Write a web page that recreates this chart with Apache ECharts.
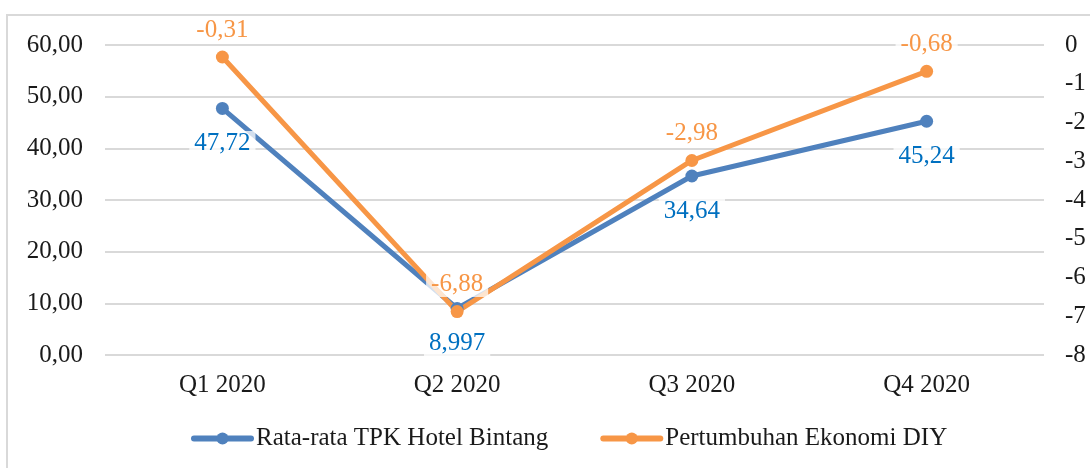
<!DOCTYPE html>
<html>
<head>
<meta charset="utf-8">
<script src="https://cdn.jsdelivr.net/npm/echarts@6/dist/echarts.min.js"></script>
<style>
    html, body { margin: 0; padding: 0; background: #fff; }
    #chart { width: 1090px; height: 468px; }
</style>
</head>
<body>
<div id="chart"></div>
<script>
// data
var categories = ["Q1 2020", "Q2 2020", "Q3 2020", "Q4 2020"];
var tpkHotel = [47.72, 8.997, 34.64, 45.24];
var ekonomiDIY = [-0.31, -6.88, -2.98, -0.68];
var seriesNames = ["Rata-rata TPK Hotel Bintang", "Pertumbuhan Ekonomi DIY"];

(function() {
    var myChart = echarts.init(document.getElementById("chart"));
    var fontName = "Liberation Serif";

    function comma(v) {
        return String(v).replace(".", ",");
    }

    var option = {
        animation: false,
        color: ["#4F81BD", "#F79646"],
        //外框
        graphic: [{
            type: 'rect',
            shape: { x: 7, y: 15, width: 1110, height: 480 },
            style: { fill: null, stroke: "#d9d9d9", lineWidth: 2 },
            silent: true
        }],
        grid: {
            left: 105,
            right: 46,
            top: 45,
            bottom: 113
        },
        legend: {
            bottom: 12,
            left: 186,
            itemWidth: 57,
            itemHeight: 15,
            itemGap: 52,
            lineStyle: { width: 6, cap: 'round' },
            textStyle: {
                fontFamily: fontName,
                fontSize: 25,
                color: "#1a1a1a"
            },
            data: seriesNames
        },
        xAxis: {
            type: 'category',
            data: categories,
            axisLine: { show: false },
            axisTick: { show: false },
            axisLabel: {
                margin: 18,
                fontFamily: fontName,
                fontSize: 25,
                color: "#1a1a1a"
            }
        },
        yAxis: [{
            type: 'value',
            min: 0,
            max: 60,
            interval: 10,
            axisLine: { show: false },
            axisTick: { show: false },
            axisLabel: {
                margin: 22,
                fontFamily: fontName,
                fontSize: 25,
                color: "#1a1a1a",
                formatter: function(v) {
                    return v.toFixed(2).replace(".", ",");
                }
            },
            splitLine: {
                lineStyle: { color: "#d9d9d9", width: 2 }
            }
        }, {
            type: 'value',
            min: -8,
            max: 0,
            interval: 1,
            axisLine: { show: false },
            axisTick: { show: false },
            splitLine: { show: false },
            axisLabel: {
                margin: 21,
                fontFamily: fontName,
                fontSize: 25,
                color: "#1a1a1a"
            }
        }],
        series: [{
            name: seriesNames[0],
            type: 'line',
            yAxisIndex: 0,
            data: tpkHotel,
            symbol: 'circle',
            symbolSize: 13,
            lineStyle: { width: 5 },
            label: {
                show: true,
                position: 'bottom',
                distance: 16,
                fontFamily: fontName,
                fontSize: 25,
                color: "#0070C0",
                backgroundColor: "rgba(255,255,255,0.75)",
                padding: [0, 5],
                formatter: function(p) { return comma(p.value); }
            }
        }, {
            name: seriesNames[1],
            type: 'line',
            yAxisIndex: 1,
            data: ekonomiDIY,
            symbol: 'circle',
            symbolSize: 13,
            lineStyle: { width: 5 },
            label: {
                show: true,
                position: 'top',
                distance: 8,
                fontFamily: fontName,
                fontSize: 25,
                color: "#F79646",
                backgroundColor: "rgba(255,255,255,0.75)",
                padding: [0, 5],
                formatter: function(p) { return comma(p.value); }
            }
        }]
    };

    myChart.setOption(option);

    window.addEventListener("resize", function() {
        myChart.resize();
    })
})();
</script>
</body>
</html>
